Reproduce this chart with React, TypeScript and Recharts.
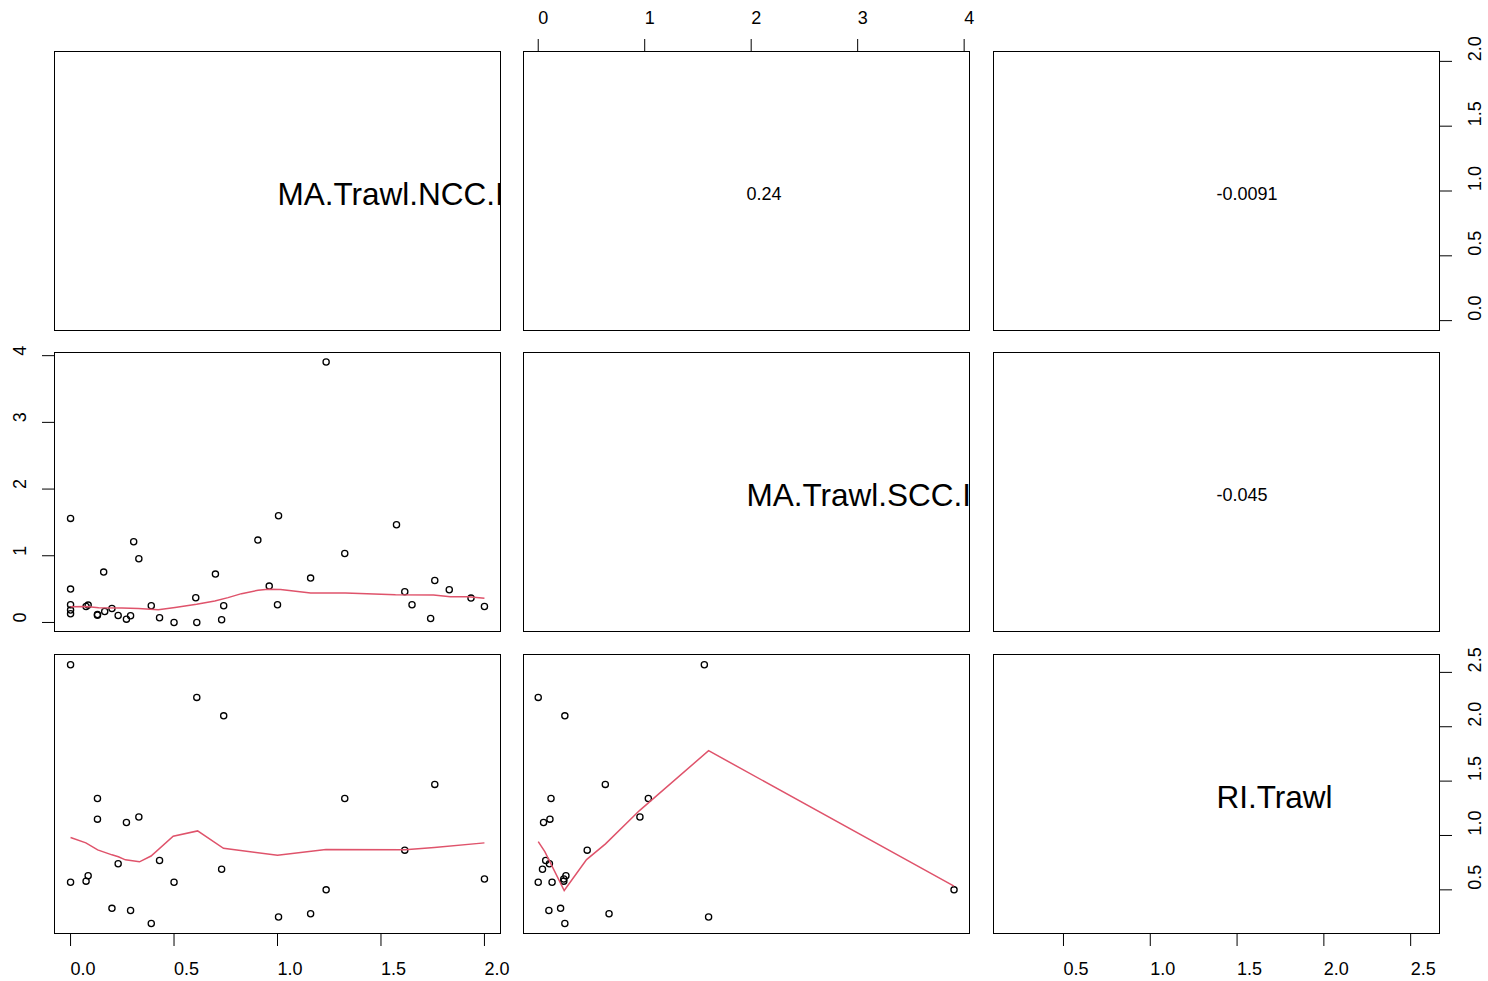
import React from "react";
import { ScatterChart, Scatter, XAxis, YAxis } from "recharts";

// one entry per observation; RI is missing (null) for some rows
const nccValues = [
  0.0, 0.61, 0.74, 0.13, 0.13, 0.27, 0.33, 0.23, 0.43, 0.0, 0.075, 0.085,
  0.5, 0.73, 0.2, 0.29, 0.39, 1.005, 1.16, 1.235, 1.325, 1.615, 1.76, 2.0,
  0.0, 0.0, 0.0, 0.16, 0.165, 0.305, 0.605, 0.7, 0.905, 0.96, 1.0, 1.575,
  1.65, 1.74, 1.83, 1.935,
];
const sccValues = [
  1.56, 0.0, 0.25, 0.12, 0.11, 0.05, 0.955, 0.105, 0.07, 0.13, 0.24, 0.26,
  0.0, 0.04, 0.21, 0.1, 0.25, 1.6, 0.665, 3.905, 1.034, 0.46, 0.63, 0.24,
  0.5, 0.265, 0.185, 0.755, 0.165, 1.21, 0.37, 0.725, 1.235, 0.545, 0.265,
  1.465, 0.265, 0.06, 0.49, 0.365,
];
const riValues: (number | null)[] = [
  2.57, 2.27, 2.1, 1.34, 1.15, 1.12, 1.17, 0.74, 0.77, 0.57, 0.58, 0.63,
  0.57, 0.69, 0.33, 0.31, 0.19, 0.25, 0.28, 0.5, 1.34, 0.865, 1.47, 0.6,
  null, null, null, null, null, null, null, null, null, null, null, null,
  null, null, null, null,
];

// smoother lines, vertices
const smoothNccSccX = [0, 0.076, 0.136, 0.248, 0.328, 0.424, 0.505, 0.609, 0.697, 0.761, 0.826, 0.906, 0.954, 1.015, 1.16, 1.328, 1.57, 1.754, 1.835, 1.923, 2.0];
const smoothNccSccY = [0.234, 0.239, 0.219, 0.215, 0.209, 0.19, 0.224, 0.274, 0.323, 0.372, 0.432, 0.483, 0.498, 0.495, 0.443, 0.443, 0.417, 0.413, 0.387, 0.387, 0.364];
const smoothNccRiX = [0, 0.074, 0.131, 0.2, 0.231, 0.265, 0.333, 0.389, 0.496, 0.614, 0.739, 1.0, 1.234, 1.616, 1.758, 2.0];
const smoothNccRiY = [0.981, 0.932, 0.868, 0.822, 0.804, 0.776, 0.758, 0.811, 0.993, 1.042, 0.882, 0.818, 0.87, 0.868, 0.889, 0.932];
const smoothSccRiX = [0, 0.062, 0.244, 0.454, 0.632, 0.951, 1.6, 3.905];
const smoothSccRiY = [0.944, 0.852, 0.494, 0.778, 0.923, 1.229, 1.78, 0.534];

const nccTicks = [0, 0.5, 1, 1.5, 2];
const nccTickLabels = ["0.0", "0.5", "1.0", "1.5", "2.0"];
const sccTicks = [0, 1, 2, 3, 4];
const sccTickLabels = ["0", "1", "2", "3", "4"];
const riTicks = [0.5, 1, 1.5, 2, 2.5];
const riTickLabels = ["0.5", "1.0", "1.5", "2.0", "2.5"];

const varNames = ["MA.Trawl.NCC.I", "MA.Trawl.SCC.I", "RI.Trawl"];
const corrNccScc = "0.24";
const corrNccRi = "-0.0091";
const corrSccRi = "-0.045";

const nccDomain: [number, number] = [-0.08, 2.08];
const sccDomain: [number, number] = [-0.143, 4.055];
const riDomain: [number, number] = [0.094, 2.669];

// layout
const COL_LEFT = [54, 523, 993];
const ROW_TOP = [51, 352, 654];
const PW = 447;
const PH = 280;
const M = 30;
const AX = 50;
const FONT = "'Liberation Sans', Arial, Helvetica, sans-serif";
const RED = "#DF536B";
const TICK_FONT = 18;

type Pt = { x: number; y: number };

const zip = (xs: number[], ys: (number | null)[]): Pt[] =>
  xs
    .map((x, i) => ({ x, y: ys[i] as number }))
    .filter((p) => p.y !== null && p.y !== undefined);

// labels start at the tick (left-aligned), as in the reference
const makeTick =
  (side: string, ticks: number[], labels: string[]) => (props: any) => {
    const { x, y, payload } = props;
    const i = ticks.indexOf(payload.value);
    const label = i >= 0 ? labels[i] : String(payload.value);
    const common = {
      fontSize: TICK_FONT,
      fill: "#000",
      fontFamily: FONT,
      textAnchor: "start" as const,
      dominantBaseline: "central" as const,
    };
    if (side === "bottom")
      return <text x={x} y={y + 23} {...common}>{label}</text>;
    if (side === "top")
      return <text x={x} y={y - 21} {...common}>{label}</text>;
    if (side === "right")
      return (
        <text x={x + 23} y={y} transform={`rotate(-90, ${x + 23}, ${y})`} {...common}>
          {label}
        </text>
      );
    return (
      <text x={x - 22} y={y} transform={`rotate(-90, ${x - 22}, ${y})`} {...common}>
        {label}
      </text>
    );
  };

const Circle = (props: any) => (
  <circle cx={props.cx} cy={props.cy} r={3.1} fill="none" stroke="#000" strokeWidth={1.3} />
);

const NoShape = () => <g />;

interface PanelProps {
  row: number;
  col: number;
  xDomain: [number, number];
  yDomain: [number, number];
  points?: Pt[];
  smooth?: Pt[];
  text?: string;
  textSize?: number;
  xSide?: "top" | "bottom";
  ySide?: "left" | "right";
  xTicks?: number[];
  xLabels?: string[];
  yTicks?: number[];
  yLabels?: string[];
}

const Panel: React.FC<PanelProps> = ({
  row,
  col,
  xDomain,
  yDomain,
  points,
  smooth,
  text,
  textSize = 18,
  xSide,
  ySide,
  xTicks = [],
  xLabels = [],
  yTicks = [],
  yLabels = [],
}) => {
  const boxLeft = COL_LEFT[col];
  const boxTop = ROW_TOP[row];
  const w = PW + 2 * M + (ySide ? AX : 0);
  const h = PH + 2 * M + (xSide ? AX : 0);
  const left = boxLeft - M - (ySide === "left" ? AX : 0);
  const top = boxTop - M - (xSide === "top" ? AX : 0);

  return (
    <>
      <div style={{ position: "absolute", left, top, width: w, height: h }}>
        <ScatterChart width={w} height={h} margin={{ top: M, right: M, bottom: M, left: M }}>
          <XAxis
            type="number"
            dataKey="x"
            domain={xDomain}
            allowDataOverflow
            hide={!xSide}
            orientation={xSide || "bottom"}
            height={AX}
            ticks={xTicks}
            interval={0}
            tickSize={12}
            tickMargin={0}
            axisLine={false}
            tickLine={{ stroke: "#000", strokeWidth: 1 }}
            tick={makeTick(xSide || "bottom", xTicks, xLabels)}
          />
          <YAxis
            type="number"
            dataKey="y"
            domain={yDomain}
            allowDataOverflow
            hide={!ySide}
            orientation={ySide || "left"}
            width={AX}
            ticks={yTicks}
            interval={0}
            tickSize={12}
            tickMargin={0}
            axisLine={false}
            tickLine={{ stroke: "#000", strokeWidth: 1 }}
            tick={makeTick(ySide || "left", yTicks, yLabels)}
          />
          {points && (
            <Scatter data={points} shape={Circle} isAnimationActive={false} />
          )}
          {smooth && (
            <Scatter
              data={smooth}
              line={{ stroke: RED, strokeWidth: 1.5 }}
              lineType="joint"
              shape={NoShape}
              isAnimationActive={false}
            />
          )}
        </ScatterChart>
      </div>
      <div
        style={{
          position: "absolute",
          left: boxLeft,
          top: boxTop,
          width: PW,
          height: PH,
          border: "1px solid #000",
          boxSizing: "border-box",
          overflow: "hidden",
          pointerEvents: "none",
        }}
      >
        {text && (
          <svg width={PW} height={PH} style={{ position: "absolute", left: -1, top: -1 }}>
            <text
              x={PW / 2}
              y={PH / 2 + 3}
              fontSize={textSize}
              fontFamily={FONT}
              fill="#000"
              dominantBaseline="central"
            >
              {text}
            </text>
          </svg>
        )}
      </div>
    </>
  );
};

export default function App() {
  const nccScc = zip(nccValues, sccValues);
  const nccRi = zip(nccValues, riValues);
  const sccRi = zip(sccValues, riValues);

  return (
    <div
      style={{
        position: "absolute",
        left: 0,
        top: 0,
        width: 1488,
        height: 981,
        background: "#fff",
        overflow: "hidden",
      }}
    >
      {/* row 1 */}
      <Panel row={0} col={0} xDomain={nccDomain} yDomain={nccDomain} text={varNames[0]} textSize={31.5} />
      <Panel
        row={0}
        col={1}
        xDomain={sccDomain}
        yDomain={nccDomain}
        text={corrNccScc}
        xSide="top"
        xTicks={sccTicks}
        xLabels={sccTickLabels}
      />
      <Panel
        row={0}
        col={2}
        xDomain={riDomain}
        yDomain={nccDomain}
        text={corrNccRi}
        ySide="right"
        yTicks={nccTicks}
        yLabels={nccTickLabels}
      />
      {/* row 2 */}
      <Panel
        row={1}
        col={0}
        xDomain={nccDomain}
        yDomain={sccDomain}
        points={nccScc}
        smooth={zip(smoothNccSccX, smoothNccSccY)}
        ySide="left"
        yTicks={sccTicks}
        yLabels={sccTickLabels}
      />
      <Panel row={1} col={1} xDomain={sccDomain} yDomain={sccDomain} text={varNames[1]} textSize={31.5} />
      <Panel row={1} col={2} xDomain={riDomain} yDomain={sccDomain} text={corrSccRi} />
      {/* row 3 */}
      <Panel
        row={2}
        col={0}
        xDomain={nccDomain}
        yDomain={riDomain}
        points={nccRi}
        smooth={zip(smoothNccRiX, smoothNccRiY)}
        xSide="bottom"
        xTicks={nccTicks}
        xLabels={nccTickLabels}
      />
      <Panel
        row={2}
        col={1}
        xDomain={sccDomain}
        yDomain={riDomain}
        points={sccRi}
        smooth={zip(smoothSccRiX, smoothSccRiY)}
      />
      <Panel
        row={2}
        col={2}
        xDomain={riDomain}
        yDomain={riDomain}
        text={varNames[2]}
        textSize={31.5}
        xSide="bottom"
        xTicks={riTicks}
        xLabels={riTickLabels}
        ySide="right"
        yTicks={riTicks}
        yLabels={riTickLabels}
      />
    </div>
  );
}
